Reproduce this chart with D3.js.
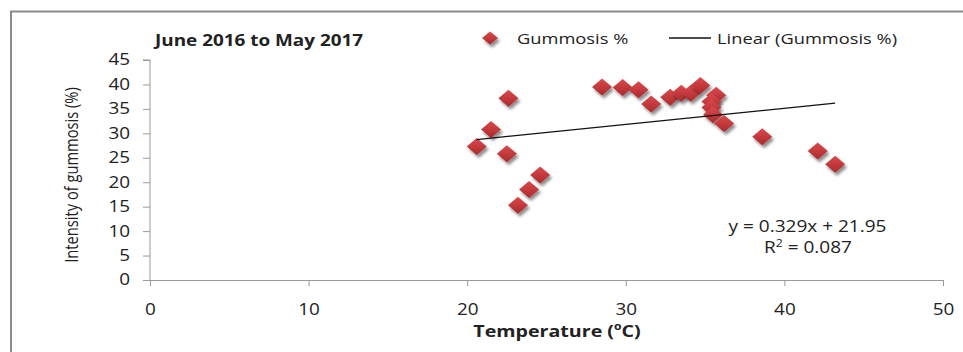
<!DOCTYPE html>
<html>
<head>
<meta charset="utf-8">
<script src="https://cdn.jsdelivr.net/npm/d3@7"></script>
<style>
  html, body { margin: 0; padding: 0; background: #fff; }
  svg { display: block; }
  text { font-family: "Open Sans", "DejaVu Sans", sans-serif; fill: #222; }
</style>
</head>
<body>
<svg id="chart" width="963" height="352"></svg>
<script>
// Periodic readings: temperature (°C) and gummosis intensity (%)
const temperature = [20.6, 21.5, 22.6, 22.5, 23.2, 23.9, 24.6, 28.5, 29.8, 30.8, 31.6,
                     32.8, 33.5, 34.1, 34.7, 35.7, 35.4, 35.4, 35.5, 36.2, 38.6, 42.1, 43.2];
const gummosis    = [27.3, 30.8, 37.2, 25.8, 15.3, 18.5, 21.5, 39.5, 39.4, 38.9, 36.0,
                     37.4, 38.2, 38.2, 39.8, 37.8, 36.5, 35.3, 33.8, 32.0, 29.3, 26.4, 23.7];

// Fitted trend: y = 0.329x + 21.95
const slope = 0.329, intercept = 21.95, rSquared = 0.087;

const xTicks = [0, 10, 20, 30, 40, 50];
const yTicks = [0, 5, 10, 15, 20, 25, 30, 35, 40, 45];

// text is drawn with a slight horizontal widening
const SX = 1.22;

const svg = d3.select("#chart");

// chart frame
svg.append("path")
  .attr("d", "M11,352 V11.5 H963")
  .attr("fill", "none")
  .attr("stroke", "#8c8c8c")
  .attr("stroke-width", 2);

const x = d3.scaleLinear().domain([0, 50]).range([150, 943]);
const y = d3.scaleLinear().domain([0, 45]).range([280, 60]);

const defs = svg.append("defs");
const grad = defs.append("linearGradient")
  .attr("id", "markerFill").attr("x1", 0).attr("y1", 0).attr("x2", 0).attr("y2", 1);
grad.append("stop").attr("offset", "0%").attr("stop-color", "#da4a4c");
grad.append("stop").attr("offset", "55%").attr("stop-color", "#c2383b");
grad.append("stop").attr("offset", "100%").attr("stop-color", "#a8292c");

const shadow = defs.append("filter").attr("id", "markerShadow")
  .attr("x", "-50%").attr("y", "-50%").attr("width", "200%").attr("height", "200%");
shadow.append("feGaussianBlur").attr("in", "SourceAlpha").attr("stdDeviation", 1.8).attr("result", "b");
shadow.append("feOffset").attr("in", "b").attr("dx", 2).attr("dy", 3).attr("result", "o");
shadow.append("feComponentTransfer").attr("in", "o").attr("result", "s")
  .append("feFuncA").attr("type", "linear").attr("slope", 0.45);
const merge = shadow.append("feMerge");
merge.append("feMergeNode").attr("in", "s");
merge.append("feMergeNode").attr("in", "SourceGraphic");

const diamond = (w, h) => `M0,${-h/2} L${w/2},0 L0,${h/2} L${-w/2},0 Z`;

// helper: text anchored at (px, py), widened horizontally
function label(px, py, size, opts = {}) {
  const g = svg.append("g").attr("transform", `translate(${px},${py}) scale(${SX},1)${opts.rotate ? " rotate(" + opts.rotate + ")" : ""}`);
  return g.append("text")
    .attr("text-anchor", opts.anchor || "start")
    .attr("font-size", size)
    .attr("font-weight", opts.bold ? "bold" : "normal")
    .attr("fill", opts.fill || "#333");
}

// axes
const xAxis = d3.axisBottom(x).tickValues(xTicks).tickSize(6).tickPadding(18);
const yAxis = d3.axisLeft(y).tickValues(yTicks).tickSize(7).tickPadding(13);

const gx = svg.append("g").attr("transform", `translate(0,${y(0)})`).call(xAxis);
const gy = svg.append("g").attr("transform", `translate(${x(0)},0)`).call(yAxis);
[gx, gy].forEach(g => {
  g.select(".domain").attr("stroke", "#9a9a9a");
  g.selectAll(".tick line").attr("stroke", "#9a9a9a");
  g.selectAll(".tick text").attr("font-size", 15.5).attr("fill", "#333")
    .style("font-family", '"Open Sans", sans-serif');
});
gy.select(".domain").attr("d", `M-7,${y(45)}H0V${y(0)}`);
// widen tick labels about their anchor point
gx.selectAll(".tick text").attr("transform", `scale(${SX},1)`);
gy.selectAll(".tick text").each(function () {
  const t = d3.select(this);
  const tx = +t.attr("x");
  t.attr("x", tx / SX).attr("transform", `scale(${SX},1)`);
});

// data markers
svg.append("g").selectAll("path")
  .data(temperature.map((t, i) => [t, gummosis[i]]))
  .join("path")
  .attr("d", diamond(20, 17))
  .attr("transform", d => `translate(${x(d[0])},${y(d[1])})`)
  .attr("fill", "url(#markerFill)")
  .attr("filter", "url(#markerShadow)");

// linear trendline over the data range
const tMin = d3.min(temperature), tMax = d3.max(temperature);
svg.append("line")
  .attr("x1", x(tMin)).attr("y1", y(slope * tMin + intercept))
  .attr("x2", x(tMax)).attr("y2", y(slope * tMax + intercept))
  .attr("stroke", "#111").attr("stroke-width", 1.3);

// equation label
label(807.5, 232, 15.6, { anchor: "middle" }).text(`y = ${slope}x + ${intercept}`);
const r2 = label(808, 253, 15.6, { anchor: "middle" });
r2.append("tspan").text("R");
r2.append("tspan").attr("font-size", 10).attr("dy", -6).text("2");
r2.append("tspan").attr("dy", 6).text(` = ${rSquared.toFixed(3)}`);

// title
label(155, 46, 15.5, { bold: true, fill: "#111" }).text("June 2016 to May 2017");

// legend
svg.append("path").attr("d", diamond(16, 13))
  .attr("transform", "translate(490,38)")
  .attr("fill", "url(#markerFill)").attr("filter", "url(#markerShadow)");
label(517, 44, 15).text("Gummosis %");
svg.append("line").attr("x1", 669).attr("x2", 711).attr("y1", 38).attr("y2", 38)
  .attr("stroke", "#111").attr("stroke-width", 1.3);
label(717, 44, 15).text("Linear (Gummosis %)");

// axis titles
const xt = label(557, 337, 16.1, { anchor: "middle", bold: true, fill: "#111" });
xt.append("tspan").text("Temperature (");
xt.append("tspan").attr("font-size", 10).attr("dy", -7).text("o");
xt.append("tspan").attr("dy", 7).text("C)");

label(78, (y(45) + y(0)) / 2 + 5, 14.7, { anchor: "middle", rotate: -90, fill: "#111" })
  .text("Intensity of gummosis (%)");
</script>
</body>
</html>
